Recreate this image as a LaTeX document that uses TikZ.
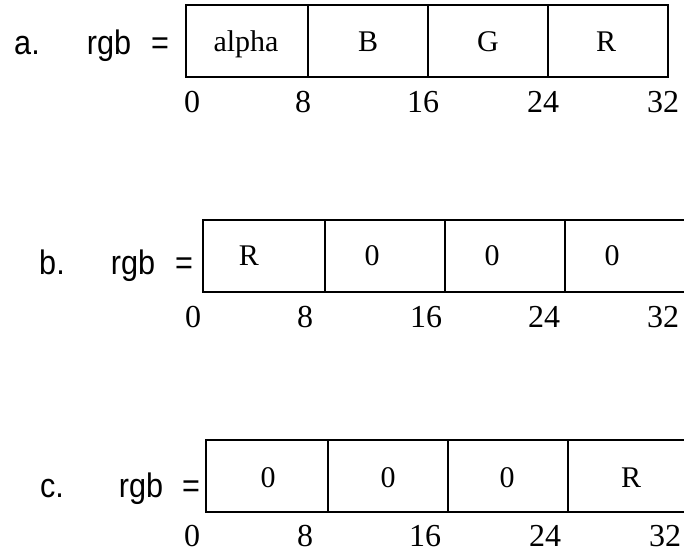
\documentclass[tikz,border=0pt]{standalone}
\usepackage{fontspec}
\setmainfont{Liberation Serif}
\newfontfamily\labelfont{Liberation Sans}
\newcommand\narrowtext[1]{\scalebox{0.9}[1]{#1}}

\begin{document}
\begin{tikzpicture}[x=1pt,y=-1pt,
  frame/.style={line width=2pt, line cap=rect},
  celltext/.style={anchor=base, inner sep=0pt, font=\fontsize{30}{30}\selectfont},
  bitnum/.style={anchor=base, inner sep=0pt, font=\fontsize{32}{32}\selectfont},
  rowlabel/.style={anchor=base, inner sep=0pt, font=\labelfont\fontsize{34}{34}\selectfont}]
\useasboundingbox (0,0) rectangle (684,556);

% ---- a. full 32-bit word: alpha | B | G | R
\draw[frame] (186,5) rectangle (668,77);
\foreach \x in {308,428,548} \draw[frame] (\x,5) -- (\x,77);
\node[rowlabel] (la) at (27,55) {\narrowtext{a.}};
\node[rowlabel] (rgba) at (109,55) {\narrowtext{rgb}};
\node[rowlabel] (eqa) at (160,55) {\narrowtext{=}};
\node[celltext] (a1) at (246,52) {alpha};
\node[celltext] (a2) at (368,52) {B};
\node[celltext] (a3) at (488,52) {G};
\node[celltext] (a4) at (606,52) {R};
\node[bitnum] (a0n) at (192,113) {0};
\node[bitnum] (a8n) at (303,113) {8};
\node[bitnum] (a16n) at (423,113) {16};
\node[bitnum] (a24n) at (543,113) {24};
\node[bitnum] (a32n) at (663,113) {32};

% ---- b. R shifted into the top byte
\draw[frame] (684,220) -- (203,220) -- (203,292) -- (684,292);
\foreach \x in {325,445,565} \draw[frame] (\x,220) -- (\x,292);
\node[rowlabel] (lb) at (52,274) {\narrowtext{b.}};
\node[rowlabel] (rgbb) at (133,274) {\narrowtext{rgb}};
\node[rowlabel] (eqb) at (184,274) {\narrowtext{=}};
\node[celltext] (b1) at (249,265) {R};
\node[celltext] (b2) at (372,265) {0};
\node[celltext] (b3) at (492,265) {0};
\node[celltext] (b4) at (612,265) {0};
\node[bitnum] (b0n) at (193,327) {0};
\node[bitnum] (b8n) at (305,327) {8};
\node[bitnum] (b16n) at (426,327) {16};
\node[bitnum] (b24n) at (544,327) {24};
\node[bitnum] (b32n) at (663,327) {32};

% ---- c. R shifted back into the low byte
\draw[frame] (684,440) -- (206,440) -- (206,512) -- (684,512);
\foreach \x in {328,448,568} \draw[frame] (\x,440) -- (\x,512);
\node[rowlabel] (lc) at (52,497) {\narrowtext{c.}};
\node[rowlabel] (rgbc) at (141,497) {\narrowtext{rgb}};
\node[rowlabel] (eqc) at (191,497) {\narrowtext{=}};
\node[celltext] (c1) at (268,487) {0};
\node[celltext] (c2) at (388,487) {0};
\node[celltext] (c3) at (507,487) {0};
\node[celltext] (c4) at (631,487) {R};
\node[bitnum] (c0n) at (192,546) {0};
\node[bitnum] (c8n) at (305,546) {8};
\node[bitnum] (c16n) at (425,546) {16};
\node[bitnum] (c24n) at (545,546) {24};
\node[bitnum] (c32n) at (665,546) {32};
\end{tikzpicture}
\end{document}
